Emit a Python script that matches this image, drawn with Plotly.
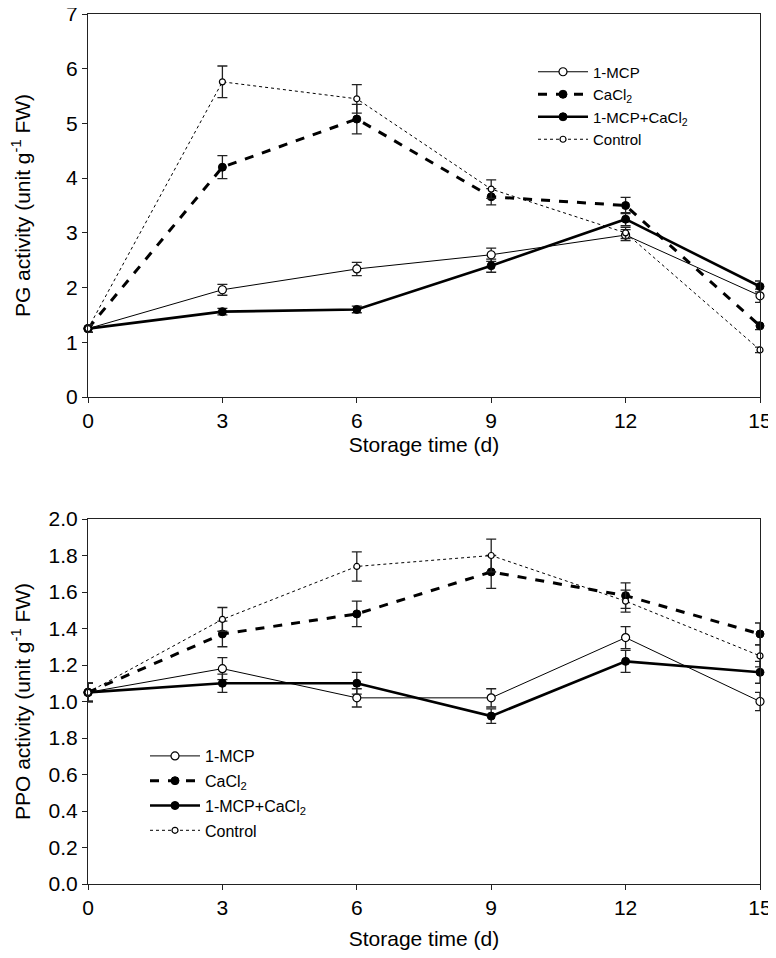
import plotly.graph_objects as go

days = [0, 3, 6, 9, 12, 15]
names = ["1-MCP", "CaCl<sub>2</sub>", "1-MCP+CaCl<sub>2</sub>", "Control"]

# PG activity (top panel)
pg_mcp = [1.25, 1.96, 2.34, 2.60, 2.96, 1.85]
pg_cacl2 = [1.25, 4.20, 5.08, 3.66, 3.50, 1.30]
pg_both = [1.25, 1.56, 1.60, 2.40, 3.25, 2.02]
pg_ctrl = [1.25, 5.76, 5.45, 3.80, 3.00, 0.86]
pg_mcp_err = [0.07, 0.10, 0.12, 0.12, 0.10, 0.12]
pg_cacl2_err = [0.07, 0.21, 0.27, 0.15, 0.15, 0.07]
pg_both_err = [0.07, 0.06, 0.06, 0.12, 0.12, 0.10]
pg_ctrl_err = [0.07, 0.29, 0.26, 0.17, 0.10, 0.05]

# PPO activity (bottom panel)
ppo_mcp = [1.05, 1.18, 1.02, 1.02, 1.35, 1.00]
ppo_cacl2 = [1.05, 1.37, 1.48, 1.71, 1.58, 1.37]
ppo_both = [1.05, 1.10, 1.10, 0.92, 1.22, 1.16]
ppo_ctrl = [1.05, 1.45, 1.74, 1.80, 1.55, 1.25]
ppo_mcp_err = [0.05, 0.06, 0.05, 0.05, 0.06, 0.05]
ppo_cacl2_err = [0.05, 0.07, 0.07, 0.09, 0.07, 0.06]
ppo_both_err = [0.05, 0.05, 0.06, 0.04, 0.06, 0.06]
ppo_ctrl_err = [0.05, 0.065, 0.08, 0.09, 0.06, 0.06]

ppo_ticks = [0.0, 0.2, 0.4, 0.6, 0.8, 1.0, 1.2, 1.4, 1.6, 1.8, 2.0]
ppo_ticktext = ["0.0", "0.2", "0.4", "0.6", "1.8", "1.0", "1.2", "1.4", "1.6", "1.8", "2.0"]

styles = [
    dict(line=dict(color="black", width=1, dash="solid"),
         marker=dict(symbol="circle", size=8, color="white", line=dict(color="black", width=1.2))),
    dict(line=dict(color="black", width=3, dash="dash"),
         marker=dict(symbol="circle", size=8, color="black", line=dict(color="black", width=1))),
    dict(line=dict(color="black", width=2.6, dash="solid"),
         marker=dict(symbol="circle", size=8, color="black", line=dict(color="black", width=1))),
    dict(line=dict(color="black", width=1, dash="dot"),
         marker=dict(symbol="circle", size=6, color="white", line=dict(color="black", width=1.2))),
]

fig = go.Figure()

panels = [
    ([pg_mcp, pg_cacl2, pg_both, pg_ctrl], [pg_mcp_err, pg_cacl2_err, pg_both_err, pg_ctrl_err], "x", "y", "legend", "a"),
    ([ppo_mcp, ppo_cacl2, ppo_both, ppo_ctrl], [ppo_mcp_err, ppo_cacl2_err, ppo_both_err, ppo_ctrl_err], "x2", "y2", "legend2", "b"),
]
for series, errs, xa, ya, lg, grp in panels:
    for i, (name, vals, err, st) in enumerate(zip(names, series, errs, styles)):
        fig.add_trace(go.Scatter(
            x=days, y=vals, name=name, mode="lines+markers",
            line=st["line"], marker=st["marker"],
            error_y=dict(type="data", array=err, visible=True, color="#222",
                         thickness=1.3, width=5),
            xaxis=xa, yaxis=ya, legend=lg, legendgroup=grp + str(i),
            cliponaxis=False))

font = dict(family="Liberation Sans, Arial, sans-serif", color="black")
axis_common = dict(showline=True, linecolor="#222", linewidth=1.2, mirror=True,
                   ticks="outside", ticklen=5, tickcolor="#222", showgrid=False,
                   zeroline=False, tickfont=dict(size=21), automargin=False,
                   ticklabeloverflow="allow")

# page body has an 8px margin, so the figure is smaller than the window
W, H = 768, 942

fig.update_layout(
    width=W, height=H,
    margin=dict(l=0, r=0, t=0, b=0),
    paper_bgcolor="white", plot_bgcolor="white",
    font=font,
    xaxis=dict(domain=[80 / W, 752 / W], anchor="y", range=[0, 15],
               tickvals=days, title=dict(text="Storage time (d)", font=dict(size=21), standoff=6),
               **axis_common),
    yaxis=dict(domain=[1 - 389 / H, 1 - 6 / H], anchor="x", range=[0, 7], dtick=1,
               title=dict(text="PG activity (unit g<sup>-1</sup> FW)", font=dict(size=21), standoff=31),
               **axis_common),
    xaxis2=dict(domain=[80 / W, 752 / W], anchor="y2", range=[0, 15],
                tickvals=days, title=dict(text="Storage time (d)", font=dict(size=21), standoff=15),
                **axis_common),
    yaxis2=dict(domain=[1 - 876 / H, 1 - 511 / H], anchor="x2", range=[0, 2],
                tickvals=ppo_ticks, ticktext=ppo_ticktext,
                title=dict(text="PPO activity (unit g<sup>-1</sup> FW)", font=dict(size=21), standoff=15),
                **axis_common),
    legend=dict(x=525 / W, y=1 - 47.5 / H, xanchor="left", yanchor="top", bgcolor="rgba(0,0,0,0)",
                font=dict(size=15), itemwidth=50, tracegroupgap=0),
    legend2=dict(x=137 / W, y=1 - 731 / H, xanchor="left", yanchor="top", bgcolor="rgba(0,0,0,0)",
                 font=dict(size=16), itemwidth=50, tracegroupgap=1),
    showlegend=True,
)

fig.write_html("out.html")
